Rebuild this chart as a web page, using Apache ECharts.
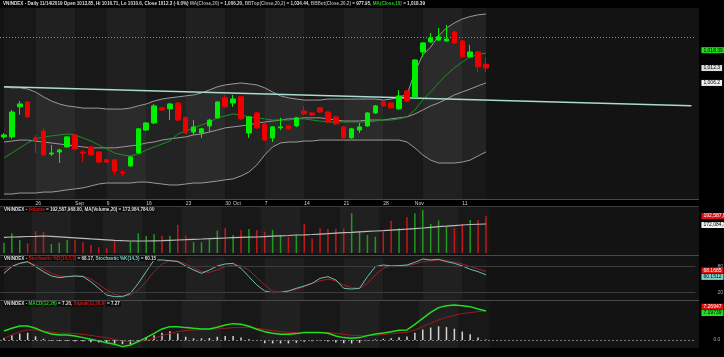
<!DOCTYPE html>
<html><head><meta charset="utf-8">
<script src="https://cdn.jsdelivr.net/npm/echarts@6/dist/echarts.min.js"></script>
<style>html,body{margin:0;padding:0;background:#000}#c{width:724px;height:357px}</style>
</head><body><div id="c"></div>
<script>
const dates=['08-20','08-21','08-22','08-23','08-26','08-27','08-28','08-29','08-30','09-03','09-04','09-05','09-06','09-09','09-10','09-11','09-12','09-13','09-16','09-17','09-18','09-19','09-20','09-23','09-24','09-25','09-26','09-27','09-30','10-01','10-02','10-03','10-04','10-07','10-08','10-09','10-10','10-11','10-14','10-15','10-16','10-17','10-18','10-21','10-22','10-23','10-24','10-25','10-28','10-29','10-30','10-31','11-01','11-04','11-05','11-06','11-07','11-08','11-11','11-12','11-13','11-14'];
const opens=[984.1,984.1,996.4,998.4,983.7,986.5,977.1,977.9,980.0,984.9,977.9,980.0,977.9,974.7,974.7,969.7,972.2,977.5,986.9,989.8,996.0,995.6,998.0,991.9,986.1,985.7,988.6,991.9,1000.1,998.0,1000.5,985.7,993.9,989.4,983.7,987.8,988.6,988.6,994.7,993.9,996.0,994.3,992.3,988.2,983.7,986.9,988.6,993.9,998.4,998.0,995.6,1002.9,1000.5,1018.9,1023.0,1023.8,1023.4,1027.1,1023.4,1016.9,1018.9,1013.85];
const closes=[984.9,994.3,997.6,992.3,982.8,976.7,977.5,978.7,984.1,979.2,977.5,976.7,973.8,973.8,970.1,969.3,975.9,987.4,989.8,996.8,995.1,997.6,991.0,985.7,988.2,987.4,991.0,998.4,996.4,999.6,991.5,992.3,987.8,982.8,988.2,988.2,987.4,991.9,993.5,993.1,994.3,990.2,989.4,983.7,987.4,988.2,993.9,996.8,996.8,996.0,1000.9,998.8,1015.6,1022.6,1024.6,1025.1,1024.2,1022.6,1016.9,1018.9,1012.8,1012.3];
const lows=[983.3,983.3,993.1,991.9,977.5,976.3,976.3,973.4,979.6,978.7,973.8,976.3,973.4,973.4,968.5,968.1,971.8,977.1,986.5,989.4,994.7,991.0,990.6,985.3,984.9,983.7,986.1,991.5,996.0,996.4,991.0,983.7,987.4,982.4,982.0,986.9,986.9,988.2,993.1,992.7,993.9,989.8,989.0,983.3,983.3,985.7,988.2,993.5,996.4,995.6,995.1,998.4,1000.1,1016.9,1022.6,1023.4,1023.0,1022.2,1016.5,1016.5,1010.7,1010.6];
const highs=[985.7,995.1,998.8,998.8,984.9,987.8,980.8,979.2,984.5,985.3,978.7,980.4,978.3,975.1,975.1,970.6,976.3,987.8,990.2,997.6,996.4,998.0,998.4,992.7,991.0,987.8,991.5,998.8,1001.3,1001.3,1000.9,992.7,994.3,989.8,988.6,991.9,989.0,992.3,996.8,994.3,996.4,994.7,992.7,988.6,987.8,989.8,994.3,997.2,998.8,998.4,1003.3,1003.3,1016.0,1023.0,1026.7,1028.7,1030.0,1027.5,1023.8,1021.8,1019.3,1016.71];
const bbUpper=[1004.6,1004.2,1004.2,1003.7,1002.5,1000.5,998.8,997.6,996.8,996.4,995.9,995.9,995.9,995.5,995.5,995.5,995.9,996.8,997.6,998.8,999.6,1000.1,1000.5,1000.9,1001.3,1002.1,1003.3,1004.6,1005.4,1005.8,1006.2,1005.8,1005.4,1004.2,1002.5,1000.9,1000.1,999.6,999.2,999.2,999.2,999.6,999.6,999.6,999.6,999.6,999.6,999.6,999.2,999.6,1000.5,1001.3,1010.7,1017.7,1020.9,1025.5,1028.7,1030.8,1032.4,1033.4,1034.1,1034.44];
const bbMid=[982.0,982.4,982.8,982.8,982.4,982.0,981.6,981.2,980.8,980.4,980.0,979.6,979.6,979.6,979.6,980.0,980.4,980.8,981.6,982.0,982.8,983.3,983.7,984.1,984.9,985.3,986.1,986.9,987.8,988.2,988.6,989.0,989.8,990.2,990.6,991.0,991.5,991.5,991.9,991.9,991.9,991.5,991.0,990.6,990.6,990.6,991.0,991.0,991.0,991.5,991.9,992.3,993.5,995.1,996.8,998.0,999.6,1001.3,1002.5,1003.7,1005.0,1006.2];
const bbLower=[960.7,960.7,961.1,961.1,961.1,961.5,961.5,961.9,962.4,962.8,963.2,964.0,964.8,965.2,965.2,965.2,965.2,965.6,965.6,965.2,964.8,964.4,964.4,964.8,965.2,965.2,965.6,966.0,966.5,966.9,968.1,969.7,972.6,976.7,980.0,981.6,982.0,982.0,982.4,982.4,982.8,982.8,982.8,982.8,982.8,982.8,982.8,982.8,982.8,982.8,982.8,982.0,979.6,976.7,974.6,973.4,973.4,973.4,973.8,974.6,976.3,977.95];
const ma10=[975.5,977.5,979.6,981.6,983.3,984.1,984.5,984.9,985.3,984.9,983.7,982.4,980.8,979.2,977.5,976.7,976.3,977.1,978.7,980.0,981.2,982.4,985.3,986.5,987.8,989.0,990.2,991.9,992.7,993.5,993.1,992.3,991.9,991.5,991.0,991.0,991.0,991.5,991.5,991.0,990.6,990.2,990.2,990.2,990.2,990.2,990.2,990.6,991.0,991.0,991.5,992.3,995.1,999.2,1002.5,1006.2,1009.5,1012.4,1014.8,1016.9,1017.8,1018.39];
const volumeM=[124.1,148.2,131.1,122.6,154.1,152.3,120.8,124.1,131.1,131.1,125.2,118.2,112.3,109.8,129.3,98.2,126.7,148.2,141.3,145.7,142.1,142.1,169.5,142.1,125.2,125.2,135.4,154.9,161.1,143.9,156.7,159.3,156.7,152.3,156.7,143.9,139.5,143.9,172.1,135.4,161.1,159.3,159.3,161.1,199.5,152.3,143.9,139.5,152.3,180.5,161.1,189.3,199.5,208.0,172.1,181.5,165.0,161.1,172.1,182.3,182.3,192.59];
const volMA=[138.0,138.7,139.3,140.0,140.5,141.3,140.5,139.3,138.0,136.7,135.4,134.1,132.9,131.6,130.3,129.3,128.5,128.5,128.5,129.0,129.5,130.3,131.1,131.8,132.9,133.6,134.4,135.4,136.2,137.0,137.7,138.3,138.7,139.8,140.8,141.8,142.6,143.9,144.4,145.2,146.2,147.2,148.5,149.8,150.8,152.1,153.1,154.1,154.9,156.2,157.5,158.7,160.3,161.8,163.6,165.2,166.4,168.0,169.5,170.8,171.5,172.08];
const stochK=[63.8,79.2,86.8,90.7,79.2,67.6,57.6,53.8,56.1,57.6,56.1,44.5,29.2,13.8,10.0,10.0,17.6,40.7,67.6,94.5,94.5,93.0,90.7,80.7,71.5,63.8,71.5,80.7,85.3,86.8,75.3,56.1,36.9,23.0,19.2,20.0,23.0,29.2,34.6,40.7,52.2,56.1,48.4,29.2,27.6,29.2,56.1,79.2,83.0,80.7,81.5,83.0,89.2,96.8,94.5,96.1,90.7,86.8,80.7,73.0,67.6,60.15];
const stochD=[71.5,80.7,86.8,89.2,83.0,73.8,63.8,57.6,56.1,57.6,57.6,50.7,38.4,25.3,15.3,11.5,13.8,25.3,44.5,67.6,85.3,93.0,92.2,85.3,76.9,67.6,66.1,71.5,79.2,83.0,81.5,71.5,53.8,36.9,23.0,20.0,23.0,26.9,33.0,40.7,46.1,50.7,46.1,36.9,30.7,29.2,40.7,60.0,75.3,80.7,80.7,81.5,85.3,90.7,93.0,94.5,93.0,89.2,85.3,79.2,73.8,68.17];
const macd=[2.24,2.90,3.48,3.48,2.90,2.07,1.49,1.25,1.25,1.00,0.59,0.17,-0.24,-0.66,-1.07,-1.65,-1.23,-0.41,0.59,1.66,2.74,3.31,3.31,3.07,2.90,2.74,2.74,3.15,3.73,4.06,3.89,3.40,2.65,2.07,1.66,1.41,1.41,1.58,1.83,1.83,1.83,1.66,1.00,0.59,0.42,0.59,1.08,1.49,1.74,2.07,2.40,2.49,3.89,5.38,6.87,8.03,8.52,8.69,8.52,8.28,7.70,7.20];
const signal=[0.42,1.25,2.07,2.49,2.49,2.24,1.91,1.66,1.66,1.58,1.41,1.16,0.83,0.59,0.17,-0.24,-0.41,-0.41,-0.08,0.42,1.08,1.58,2.07,2.32,2.49,2.57,2.65,2.74,2.90,3.07,3.15,3.15,2.90,2.65,2.32,2.07,1.91,1.83,1.83,1.83,1.83,1.83,1.66,1.41,1.16,1.08,1.08,1.16,1.33,1.58,1.74,1.91,2.49,3.31,4.14,4.97,5.63,6.12,6.54,6.79,7.04,7.27];
const hist=[0.5,1.2,1.6,1.8,0.9,0.3,-0.2,-0.25,-0.25,-0.4,-0.4,-0.55,-0.65,-0.8,-0.9,-1.05,-1.0,-0.3,0.6,1.2,1.8,2.2,1.6,0.8,0.4,0.4,0.5,0.8,1.0,1.0,0.6,0.2,-0.2,-0.8,-0.85,-0.85,-0.85,-0.7,-0.45,-0.3,-0.1,-0.4,-0.6,-0.8,-0.85,-0.7,-0.1,0.15,0.3,0.45,0.65,0.85,1.8,2.6,3.1,3.4,3.2,2.8,2.1,1.4,0.6,0.1];
const tickDates=['08-26','09-03','09-09','09-16','09-23','09-30','10-01','10-07','10-14','10-21','10-28','11-01','11-11'];
const tickText=['26','Sep','9','16','23','30','Oct','7','14','21','28','Nov','11'];
const trendStart=1004.64, trendEnd=996.85, resistance=1025.05;

const SLOTS=88;
const cats=dates.slice();
while(cats.length<SLOTS) cats.push('+'+cats.length);
const tickMap={}; tickDates.forEach((d,i)=>tickMap[d]=tickText[i]);
const weekStarts=[0];
for(let i=1;i<dates.length;i++){
  const a=new Date('2019-'+dates[i-1]+'T00:00:00Z').getUTCDay(), b=new Date('2019-'+dates[i]+'T00:00:00Z').getUTCDay();
  if(b<a) weekStarts.push(i);
}
function stripes(){
  const d=[];
  for(let k=0;k<weekStarts.length;k++){
    const s=weekStarts[k], e=k+1<weekStarts.length?weekStarts[k+1]:dates.length-1;
    d.push([{xAxis:s,itemStyle:{color:k%2?'#202020':'#181818'}},{xAxis:e}]);
  }
  return {silent:true,data:d};
}
const FONT='Liberation Sans';
function valLabel(v,text,bg,fg,dy){
  return {yAxis:v,lineStyle:{color:'rgba(0,0,0,0)',width:0},
    label:{show:true,position:'end',formatter:text,backgroundColor:bg,color:fg,opacity:1,fontSize:5,fontFamily:FONT,padding:[1,2,0,2],distance:6,offset:[0,dy||0]}};
}
const ohlc=opens.map((o,i)=>[o,closes[i],lows[i],highs[i]]);
const bandDiff=bbUpper.map((u,i)=>+(u-bbLower[i]).toFixed(2));
const volBars=volumeM.map((v,i)=>({value:v,itemStyle:{color:closes[i]>=opens[i]?'#1f9a1f':'#c41818'}}));

const W=695.4;
const grids=[
  {left:0,width:W,top:8,height:191},
  {left:0,width:W,top:207,height:46},
  {left:0,width:W,top:257.6,height:43.4},
  {left:0,width:W,top:301,height:47}
];
function xAx(gi,show){
  return {type:'category',gridIndex:gi,data:cats,boundaryGap:true,axisTick:{show:false},splitLine:{show:false},
    axisLine:{show:show,lineStyle:{color:'#555'}},
    axisLabel:{show:show,interval:0,align:'left',fontSize:5,color:'#ccc',margin:2,fontFamily:FONT,formatter:v=>tickMap[v]||''}};
}
function yAx(gi,min,max){return {type:'value',gridIndex:gi,min:min,max:max,show:false,splitLine:{show:false}};}
const tStyle=()=>({rich:{
  w:{color:'#dddddd',fontSize:4.6,fontFamily:FONT},
  s:{color:'#aaaaaa',fontSize:4.6,fontFamily:FONT},
  g:{color:'#22cc22',fontSize:4.6,fontFamily:FONT},
  r:{color:'#dd1111',fontSize:4.6,fontFamily:FONT},
  t:{color:'#7fd0c4',fontSize:4.6,fontFamily:FONT}}});

const option={
  backgroundColor:'#000',
  animation:false,
  title:[
    {left:3,top:1,padding:0,text:'{w|VNINDEX - Daily 11/14/2019 Open 1013.85, Hi 1016.71, Lo 1010.6, Close 1012.3 (-0.0%) }{s|MA(Close,20)}{w| = 1,006.20, }{s|BBTop(Close,20,2)}{w| = 1,034.44, }{s|BBBot(Close,20,2)}{w| = 977.95, }{g|MA(Close,10)}{w| = 1,018.39}',textStyle:tStyle()},
    {left:3,top:207,padding:[0,1],backgroundColor:'#0c0c0c',text:'{w|VNINDEX - }{r|Volume}{w| = 192,587,968.00, MA(Volume,20) = 172,084,784.00}',textStyle:tStyle()},
    {left:3,top:256,padding:[0,1],backgroundColor:'#0c0c0c',text:'{w|VNINDEX - }{r|Stochastic %D(14,3,3)}{w| = 68.17, }{t|Stochastic %K(14,3)}{w| = 60.15}',textStyle:tStyle()},
    {left:3,top:301.5,padding:[0,1],backgroundColor:'#0c0c0c',text:'{w|VNINDEX - }{g|MACD(12,26)}{w| = 7.20, }{r|Signal(12,26,9)}{w| = 7.27}',textStyle:tStyle()}
  ],
  grid:grids,
  xAxis:[xAx(0,true),xAx(1,false),xAx(2,false),xAx(3,false)],
  yAxis:[yAx(0,958.66,1036.9),yAx(1,97.7,215.7),yAx(2,0,100),yAx(3,-1.99,9.68)],
  graphic:[
    {type:'rect',z:-10,shape:{x:0,y:8,width:699,height:191},style:{fill:'#131313'},silent:true},
    {type:'rect',z:-10,shape:{x:0,y:207,width:699,height:48},style:{fill:'#131313'},silent:true},
    {type:'rect',z:-10,shape:{x:0,y:256,width:699,height:44},style:{fill:'#131313'},silent:true},
    {type:'rect',z:-10,shape:{x:0,y:301,width:699,height:47},style:{fill:'#131313'},silent:true},
    {type:'line',z:50,shape:{x1:0,y1:199.5,x2:699,y2:199.5},style:{stroke:'#4a4a4a',lineWidth:1},silent:true},
    {type:'line',z:50,shape:{x1:0,y1:206.5,x2:699,y2:206.5},style:{stroke:'#3a3a3a',lineWidth:1},silent:true},
    {type:'line',z:50,shape:{x1:0,y1:255.5,x2:699,y2:255.5},style:{stroke:'#4a4a4a',lineWidth:1},silent:true},
    {type:'line',z:50,shape:{x1:0,y1:300.5,x2:699,y2:300.5},style:{stroke:'#4a4a4a',lineWidth:1},silent:true}
  ],
  series:[
    {name:'bbLower',type:'line',xAxisIndex:0,yAxisIndex:0,data:bbLower,stack:'bb',symbol:'none',lineStyle:{color:'#9a9a9a',width:1},markArea:stripes(),z:2},
    {name:'bbBand',type:'line',xAxisIndex:0,yAxisIndex:0,data:bandDiff,stack:'bb',symbol:'none',lineStyle:{color:'#9a9a9a',width:1},areaStyle:{color:'rgba(255,255,255,0.07)'},z:2},
    {name:'bbMid',type:'line',xAxisIndex:0,yAxisIndex:0,data:bbMid,symbol:'none',lineStyle:{color:'#9a9a9a',width:1},z:3},
    {name:'ma10',type:'line',xAxisIndex:0,yAxisIndex:0,data:ma10,symbol:'none',lineStyle:{color:'#1f8f1f',width:1},z:3,
      markLine:{symbol:'none',silent:true,data:[valLabel(ma10[ma10.length-1],'1,018.39','#22dd22','#000',-3)]}},
    {name:'VNINDEX',type:'candlestick',xAxisIndex:0,yAxisIndex:0,data:ohlc,barWidth:5,z:5,
      itemStyle:{color:'#00ee00',color0:'#ee0000',borderColor:'#00ee00',borderColor0:'#ee0000',borderWidth:1},
      markLine:{symbol:'none',silent:true,data:[
        [{coord:[0,trendStart]},{coord:[SLOTS-1,trendEnd],lineStyle:{color:'#a9dcd4',width:1.5,type:'solid'}}],
        {yAxis:resistance,lineStyle:{color:'#8a8a8a',width:1,type:[1,2]},label:{show:false}},
        valLabel(closes[closes.length-1],'1,012.3','#dddddd','#000',0),
        valLabel(bbMid[bbMid.length-1],'1,006.2','#eeeeee','#000',0)
      ]}},
    {name:'Volume',type:'bar',xAxisIndex:1,yAxisIndex:1,data:volBars,barWidth:1.5,markArea:stripes(),z:2,
      markLine:{symbol:'none',silent:true,data:[valLabel(volumeM[volumeM.length-1],'192,587,968','#dd1111','#fff',0)]}},
    {name:'volMA',type:'line',xAxisIndex:1,yAxisIndex:1,data:volMA,symbol:'none',lineStyle:{color:'#bbbbbb',width:1.2},z:3,
      markLine:{symbol:'none',silent:true,data:[valLabel(volMA[volMA.length-1],'172,084,784','#eeeeee','#000',1)]}},
    {name:'%D',type:'line',xAxisIndex:2,yAxisIndex:2,data:stochD,symbol:'none',lineStyle:{color:'#a81c1c',width:1},markArea:stripes(),z:2,
      markLine:{symbol:'none',silent:true,data:[
        {yAxis:80,lineStyle:{color:'#3c3c3c',width:1,type:'solid'},label:{show:true,position:'end',formatter:'80',color:'#aaa',fontSize:5,fontFamily:FONT,distance:22}},
        {yAxis:20,lineStyle:{color:'#3c3c3c',width:1,type:'solid'},label:{show:true,position:'end',formatter:'20',color:'#aaa',fontSize:5,fontFamily:FONT,distance:22}},
        valLabel(stochD[stochD.length-1],'68.1685','#dd1111','#fff',-1)]}},
    {name:'%K',type:'line',xAxisIndex:2,yAxisIndex:2,data:stochK,symbol:'none',lineStyle:{color:'#72bdb3',width:1},z:3,
      markLine:{symbol:'none',silent:true,data:[valLabel(stochK[stochK.length-1],'60.1512','#7fd0c4','#000',2)]}},
    {name:'hist',type:'bar',xAxisIndex:3,yAxisIndex:3,data:hist,barWidth:1.5,itemStyle:{color:'#d4d4d4'},markArea:stripes(),z:2,
      markLine:{symbol:'none',silent:true,data:[
        {yAxis:0,lineStyle:{color:'#777',width:1,type:[2,2]},label:{show:true,position:'end',formatter:'0.0',color:'#aaa',fontSize:5,fontFamily:FONT,distance:18}}]}},
    {name:'signal',type:'line',xAxisIndex:3,yAxisIndex:3,data:signal,symbol:'none',lineStyle:{color:'#a01818',width:1},z:3,
      markLine:{symbol:'none',silent:true,data:[valLabel(signal[signal.length-1],'7.26947','#dd1111','#fff',-4)]}},
    {name:'MACD',type:'line',xAxisIndex:3,yAxisIndex:3,data:macd,symbol:'none',lineStyle:{color:'#22dd22',width:1.5},z:4,
      markLine:{symbol:'none',silent:true,data:[valLabel(macd[macd.length-1],'7.19739','#22dd22','#000',2)]}}
  ]
};
const chart=echarts.init(document.getElementById('c'),null,{renderer:'canvas'});
chart.setOption(option);
</script>
</body></html>
